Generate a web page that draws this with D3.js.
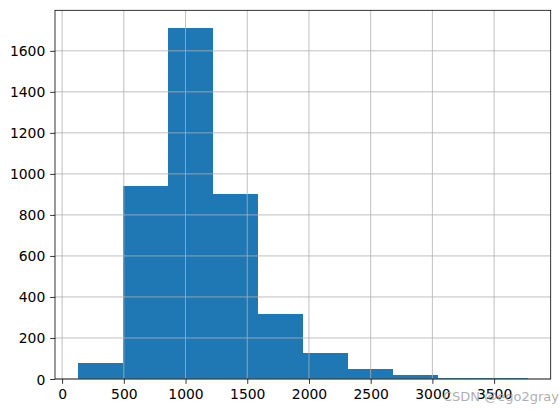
<!DOCTYPE html>
<html><head><meta charset="utf-8">
<script src="https://cdn.jsdelivr.net/npm/d3@7"></script>
<style>
html,body{margin:0;padding:0;background:#fff;}
svg{display:block;}
text{font-family:"DejaVu Sans",sans-serif;}
</style></head>
<body>
<svg id="c" width="560" height="413"></svg>
<script>
const binEdges = [125, 490, 855, 1220, 1586, 1951, 2316, 2681, 3046, 3411, 3776];
const counts = [78, 940, 1712, 902, 316, 127, 49, 19, 5, 5];
const xTicks = [0, 500, 1000, 1500, 2000, 2500, 3000, 3500];
const yTicks = [0, 200, 400, 600, 800, 1000, 1200, 1400, 1600];
const watermark = "CSDN @ego2gray";

const svg = d3.select("#c");
const L = 55, R = 550.7, T = 10.3, B = 379;
const x0 = binEdges[0], x1 = binEdges[binEdges.length - 1];
const pad = (x1 - x0) * 0.05;
const x = d3.scaleLinear().domain([x0 - pad, x1 + pad]).range([L, R]);
const y = d3.scaleLinear().domain([0, d3.max(counts) * 1.05]).range([B, T]);

const bins = counts.map((c, i) => ({x0: binEdges[i], x1: binEdges[i + 1], c}));

svg.append("g").attr("shape-rendering", "crispEdges")
  .selectAll("rect").data(bins).enter().append("rect")
  .attr("x", d => x(d.x0)).attr("width", d => x(d.x1) - x(d.x0))
  .attr("y", d => y(d.c)).attr("height", d => y(0) - y(d.c))
  .attr("fill", "#1f77b4");

// grid
const g = svg.append("g").attr("stroke", "#b0b0b0").attr("stroke-width", 0.8);
xTicks.forEach(t => g.append("line").attr("x1", x(t)).attr("x2", x(t)).attr("y1", T).attr("y2", B));
yTicks.forEach(t => g.append("line").attr("x1", L).attr("x2", R).attr("y1", y(t)).attr("y2", y(t)));

// axes via d3
const fs = 13.9;
const xAxis = d3.axisBottom(x).tickValues(xTicks).tickSize(4.86).tickPadding(4.86).tickFormat(d3.format("d"));
const yAxis = d3.axisLeft(y).tickValues(yTicks).tickSize(4.86).tickPadding(4.86).tickFormat(d3.format("d"));
const gx = svg.append("g").attr("transform", `translate(0,${B})`).call(xAxis);
const gy = svg.append("g").attr("transform", `translate(${L},0)`).call(yAxis);
[gx, gy].forEach(a => {
  a.select(".domain").remove();
  a.selectAll("line").attr("stroke", "#000").attr("stroke-width", 0.8);
  a.selectAll("text").attr("font-size", fs).attr("fill", "#000").attr("font-family", "DejaVu Sans");
});
gx.selectAll("text").attr("dy", null).attr("y", 4.86 + 4.86).attr("dominant-baseline", "hanging");
gy.selectAll("text").attr("dy", "0.36em");

// spines
svg.append("rect").attr("x", L).attr("y", T).attr("width", R - L).attr("height", B - T)
  .attr("fill", "none").attr("stroke", "#000").attr("stroke-width", 0.8);

// watermark (overlaps the tick labels in the reference too)
svg.append("text").attr("x", 443).attr("y", 401).attr("font-size", 13)
  .attr("fill", "#a0a0a0").attr("fill-opacity", 0.85).text(watermark);
</script>
</body></html>
